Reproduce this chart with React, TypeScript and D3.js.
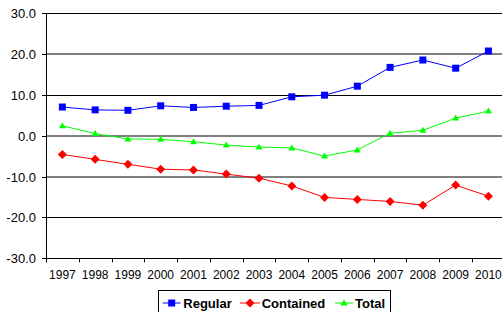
import React from "react";
import * as d3 from "d3";

const years = ["1997","1998","1999","2000","2001","2002","2003","2004","2005","2006","2007","2008","2009","2010"];
const regular = [7.0,6.3,6.2,7.3,6.9,7.2,7.4,9.5,9.9,12.1,16.7,18.5,16.5,20.7];
const contained = [-4.6,-5.8,-7.0,-8.2,-8.4,-9.4,-10.4,-12.3,-15.1,-15.6,-16.1,-17.0,-12.1,-14.8];
const total = [2.4,0.5,-0.8,-0.9,-1.5,-2.3,-2.8,-3.0,-5.0,-3.5,0.6,1.3,4.3,6.0];
const yTicks = [30,20,10,0,-10,-20,-30];
const seriesNames = ["Regular","Contained","Total"];

const W = 502, H = 312;
const L = 46, R = 504.8, T = 13, B = 258.3;
const FONT = "'Liberation Sans', Arial, sans-serif";

export default function App() {
  const x = d3.scaleBand<string>().domain(years).range([L, R]).padding(0);
  const y = d3.scaleLinear().domain([-30, 30]).range([B, T]);
  const cx = (yr: string) => (x(yr) as number) + x.bandwidth() / 2;
  const line = d3.line<number>().x((_, i) => cx(years[i])).y(d => y(d));
  const colors = ["#0000ff", "#ff0000", "#00ff00"];
  const data = [regular, contained, total];

  const marker = (k: number, px: number, py: number, key: string) => {
    if (k === 0) return <rect key={key} x={px - 3.5} y={py - 3.5} width={7} height={7} fill={colors[0]} />;
    if (k === 1) return <path key={key} d={`M${px},${py - 4.5}L${px + 4.5},${py}L${px},${py + 4.5}L${px - 4.5},${py}Z`} fill={colors[1]} />;
    return <path key={key} d={`M${px},${py - 3.5}L${px + 3.5},${py + 2.5}L${px - 3.5},${py + 2.5}Z`} fill={colors[2]} />;
  };

  const legendItems = [
    { x0: 162.7, x1: 180.7, tx: 183.3 },
    { x0: 240, x1: 260, tx: 261.7 },
    { x0: 335, x1: 353, tx: 355 },
  ];

  return (
    <svg width={W} height={H} style={{ position: "absolute", left: 0, top: 0 }} fontFamily={FONT}>
      <rect width={W} height={H} fill="#fff" />
      {yTicks.map(t => {
        const yy = Math.round(y(t));
        const gray = t === 20 || t === 0 || t === -10;
        return (
          <g key={t}>
            <line x1={L} x2={R} y1={gray ? yy : yy + 0.5} y2={gray ? yy : yy + 0.5}
              stroke={gray ? "#808080" : "#000"} strokeWidth={gray ? 2 : 1} />
            <line x1={L - 4} x2={L} y1={yy + 0.5} y2={yy + 0.5} stroke="#000" />
            <text x={36} y={yy + 4.5} textAnchor="end" fontSize={13} fill="#000">{t.toFixed(1)}</text>
          </g>
        );
      })}
      <line x1={L + 0.5} x2={L + 0.5} y1={T} y2={B + 4} stroke="#000" />
      <line x1={L} x2={R} y1={Math.round(B) + 0.5} y2={Math.round(B) + 0.5} stroke="#000" />
      {years.map((yr, i) => (
        <g key={yr}>
          <line x1={Math.round(x(yr) as number) + 0.5} x2={Math.round(x(yr) as number) + 0.5} y1={B} y2={B + 4} stroke="#000" />
          <text x={cx(yr)} y={279} textAnchor="middle" fontSize={12} fill="#000">{yr}</text>
        </g>
      ))}
      {data.map((d, k) => (
        <g key={k}>
          <path d={line(d) as string} fill="none" stroke={colors[k]} strokeWidth={1} />
          {d.map((v, i) => marker(k, cx(years[i]), y(v), `${k}-${i}`))}
        </g>
      ))}
      <rect x={158.5} y={290.5} width={232} height={30} fill="#fff" stroke="#000" />
      {legendItems.map((it, k) => (
        <g key={k}>
          <line x1={it.x0} x2={it.x1} y1={303} y2={303} stroke={colors[k]} />
          {marker(k, (it.x0 + it.x1) / 2, 303, `lg${k}`)}
          <text x={it.tx} y={307.5} fontSize={13} fontWeight="bold" fill="#000">{seriesNames[k]}</text>
        </g>
      ))}
    </svg>
  );
}
